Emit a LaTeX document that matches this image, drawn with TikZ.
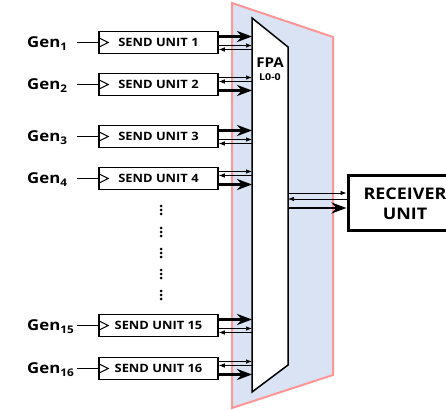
\documentclass[tikz,border=0pt]{standalone}
\usepackage{fontspec}
\setmainfont{Open Sans}[FakeStretch=1.12]
\usepackage{xcolor}
\usepackage{tikz}
\usetikzlibrary{calc}
\usetikzlibrary{arrows.meta}
\definecolor{bluefill}{RGB}{218,227,243}
\definecolor{pinkline}{RGB}{255,150,150}
\tikzstyle{unit} = [draw, line width=1.5pt, minimum width=119pt, minimum height=22pt, inner sep=0pt, font=\fontsize{11.5}{13}\selectfont\bfseries]
\tikzstyle{gen} = [anchor=west, inner sep=0pt, font=\fontsize{15}{17}\selectfont\bfseries]
\tikzstyle{bus} = [line width=2.8pt, -{Stealth[length=15pt,width=11pt]}]
\tikzstyle{sig} = [line width=0.7pt, -{Latex[length=6pt,width=4.5pt]}]

\begin{document}
\begin{tikzpicture}[x=1pt,y=-1pt]
    \useasboundingbox (0,0) rectangle (446,411);

    % shaded region behind the FPA
    \draw[line width=2pt, draw=pinkline, fill=bluefill] (232,3) -- (333,37) -- (333,375) -- (232,408) -- cycle;
    % FPA block
    \draw[line width=1.5pt, fill=white] (252,18) -- (288,47) -- (288,365) -- (252,392) -- cycle;
    \node[font=\fontsize{13.5}{15}\selectfont\bfseries] (fpa) at (270,63) {FPA};
    \node[font=\fontsize{9.5}{11}\selectfont\bfseries] (fpaid) at (270,77) {L0-0};
    \coordinate (fpaL) at (252,0);
    \coordinate (fpaR) at (288,0);
    \coordinate (inL) at (77,0);

    % send units
    \node[unit] (su1) at (158.5,42.5) {SEND UNIT 1};
    \node[unit] (su2) at (158.5,84.5) {SEND UNIT 2};
    \node[unit] (su3) at (158.5,136.5) {SEND UNIT 3};
    \node[unit] (su4) at (158.5,178.5) {SEND UNIT 4};
    \node[unit] (su15) at (158.5,325.5) {SEND UNIT 15};
    \node[unit] (su16) at (158.5,368.5) {SEND UNIT 16};

    % generators
    \node[gen] (gen1) at (27,43.5) {Gen\textsubscript{1}};
    \node[gen] (gen2) at (27,85.5) {Gen\textsubscript{2}};
    \node[gen] (gen3) at (27,137.5) {Gen\textsubscript{3}};
    \node[gen] (gen4) at (27,179.5) {Gen\textsubscript{4}};
    \node[gen] (gen15) at (27,326.5) {Gen\textsubscript{15}};
    \node[gen] (gen16) at (27,369.5) {Gen\textsubscript{16}};

    % inputs with clock marks
    \foreach \u in {su1,su2,su3,su4,su15,su16} {
        \draw[line width=1.4pt] (inL |- \u.west) -- (\u.west);
        \draw[line width=1.1pt] ($(\u.west)+(0,-5)$) -- ($(\u.west)+(10,0)$) -- ($(\u.west)+(0,5)$);
    }

    % links to the FPA: bus, request, reply
    \foreach \u/\a/\b/\c in {su1/-6/3/7, su2/6/-7/-3, su3/-6/3/7, su4/6/-7/-3, su15/-6/3/7, su16/6/-7/-3} {
        \draw[bus] ($(\u.east)+(0,\a)$) -- ($(fpaL |- \u.east)+(0,\a)$);
        \draw[sig] ($(\u.east)+(0,\b)$) -- ($(fpaL |- \u.east)+(0,\b)$);
        \draw[sig] ($(fpaL |- \u.east)+(0,\c)$) -- ($(\u.east)+(0,\c)$);
    }

    % skipped units
    \foreach \y in {210,232,253,274,295} {
        \foreach \d in {-4,0,4}
            \fill (161,\y+\d) circle (1.5pt);
    }

    % receiver
    \node[draw, line width=3pt, minimum width=114pt, minimum height=55pt, align=center, font=\fontsize{16}{20}\selectfont\bfseries] (rx) at (405,203.5) {RECEIVER\\UNIT};
    \draw[sig] ($(fpaR |- rx.west)+(0,-10.5)$) -- ($(rx.west)+(0,-10.5)$);
    \draw[sig] ($(rx.west)+(0,-4.5)$) -- ($(fpaR |- rx.west)+(0,-4.5)$);
    \draw[bus] ($(fpaR |- rx.west)+(0,4.5)$) -- ($(rx.west)+(0,4.5)$);

\end{tikzpicture}
\end{document}
